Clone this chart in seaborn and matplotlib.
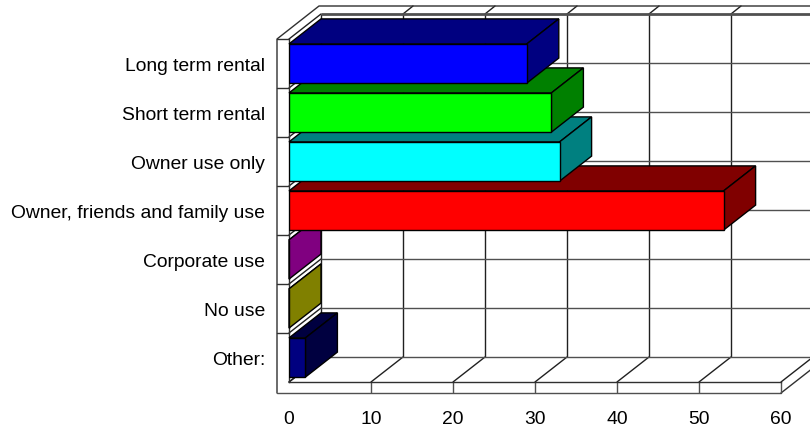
import matplotlib
matplotlib.use("Agg")
import matplotlib.pyplot as plt
import pandas as pd
import seaborn as sns
from matplotlib.patches import Polygon
from matplotlib.transforms import Affine2D

categories = ["Long term rental", "Short term rental", "Owner use only",
              "Owner, friends and family use", "Corporate use", "No use", "Other:"]
counts = [29, 32, 33, 53, 0, 0, 2]
front_colors = ["#0000ff", "#00ff00", "#00ffff", "#ff0000", "#ff00ff", "#ffff00", "#000080"]
shade_colors = ["#000080", "#008000", "#008080", "#800000", "#800080", "#808000", "#000040"]
value_ticks = [0, 10, 20, 30, 40, 50, 60]

W, H = 810, 430
DEPTH_X, DEPTH_Y = 32, 25        # pixel offset of the back wall
WALL = 12                        # wall thickness in pixels
BAR = 0.8

sns.set_theme(style="white")
plt.rcParams["font.family"] = ["Liberation Sans", "DejaVu Sans"]

fig = plt.figure(figsize=(W / 100, H / 100), dpi=100, facecolor="white")
ax = fig.add_axes([289 / W, 1 - 382 / H, 492 / W, 343 / H])
ax.set_facecolor("none")
ax.set_zorder(2)

df = pd.DataFrame({"use": categories, "count": counts})
sns.barplot(data=df, y="use", x="count", hue="use", palette=front_colors, legend=False,
            width=BAR, edgecolor="black", linewidth=1, saturation=1, ax=ax)
ax.set_xlim(0, 60)
ax.set_ylim(len(categories) - 0.5, -0.5)
ax.set_xlabel("")
ax.set_ylabel("")

back = ax.transData + Affine2D().translate(DEPTH_X, DEPTH_Y)
ymin, ymax = len(categories) - 0.5, -0.5


def frame_line(xs, ys, color="#202020"):
    """Add a pixel-positioned line behind the axes."""
    fig.add_artist(plt.Line2D([x / W for x in xs], [y / H for y in ys],
                              color=color, lw=1, zorder=0))


# back wall grid
for v in value_ticks:
    ax.plot([v, v], [ymin, ymax], transform=back, color="#202020", lw=1,
            clip_on=False, zorder=1, solid_capstyle="butt")
for k in range(len(categories) + 1):
    y = k - 0.5
    ax.plot([0, 60], [y, y], transform=back, color="#505050", lw=2 if k == 0 else 1,
            clip_on=False, zorder=1, solid_capstyle="butt")

# floor diagonals, top rim ticks and left wall diagonals
for v in value_ticks:
    x0, y0 = ax.transData.transform((v, ymin))
    frame_line([x0, x0 + DEPTH_X], [y0, y0 + DEPTH_Y])
    xt, yt = ax.transData.transform((v, ymax))
    if v > 0:
        frame_line([xt + DEPTH_X, xt + DEPTH_X + 10], [yt + DEPTH_Y, yt + DEPTH_Y + 8])
for k in range(len(categories) + 1):
    x0, y0 = ax.transData.transform((0, k - 0.5))
    frame_line([x0, x0 + DEPTH_X], [y0, y0 + DEPTH_Y])
    # row separators across the left wall
    if 0 < k < len(categories):
        frame_line([x0 - WALL, x0], [y0, y0], "#303030")

# outer rim of the walls and floor
xl, yb = ax.transData.transform((0, ymin))
xr, yt = ax.transData.transform((60, ymax))
frame_line([xl - WALL, xl - WALL, xl + DEPTH_X - 2, W],
           [yb - 11, yt, yt + DEPTH_Y + 8, yt + DEPTH_Y + 8], "#303030")
frame_line([xl - WALL, xl], [yt, yt], "#303030")
frame_line([xl - WALL, xr], [yb - 11, yb - 11], "#505050")
frame_line([xr, xr + DEPTH_X], [yb - 11, yb - 11 + DEPTH_Y], "#303030")

# extruded bar faces: lower rows first so that upper rows overlap them
offset = (DEPTH_X, DEPTH_Y)
for i, (patch, value, shade) in enumerate(zip(ax.patches, counts, shade_colors)):
    z = 3 + 3 * (len(categories) - i)
    patch.set_zorder(z + 2)
    top, bottom = i - BAR / 2, i + BAR / 2
    a = ax.transData.transform((0, top))
    b = ax.transData.transform((value, top))
    c = ax.transData.transform((value, bottom))
    top_face = [a, b, b + offset, a + offset]
    side_face = [b, c, c + offset, b + offset]
    for pts, zz in ((top_face, z), (side_face, z + 1)):
        ax.add_patch(Polygon(pts, closed=True, transform=None, facecolor=shade,
                             edgecolor="black", lw=1, clip_on=False, zorder=zz))

sns.despine(ax=ax, top=True, right=True)
for s in ("left", "bottom"):
    ax.spines[s].set_color("#303030")
    ax.spines[s].set_linewidth(1)
    ax.spines[s].set_zorder(2)

ax.set_xticks(value_ticks)
ax.tick_params(axis="x", length=11 * 0.72, width=1, color="#505050", pad=13,
               labelsize=13.9, labelcolor="black", bottom=True)
ax.tick_params(axis="y", length=0, pad=17.3, labelsize=13.9, labelcolor="black")
ax.xaxis.get_major_ticks()[0].tick1line.set_visible(False)

# row labels sit one pixel below the row centre
for label in ax.get_yticklabels():
    label.set_transform(label.get_transform() + Affine2D().translate(0, -1))

fig.savefig("out.png", dpi=100)
